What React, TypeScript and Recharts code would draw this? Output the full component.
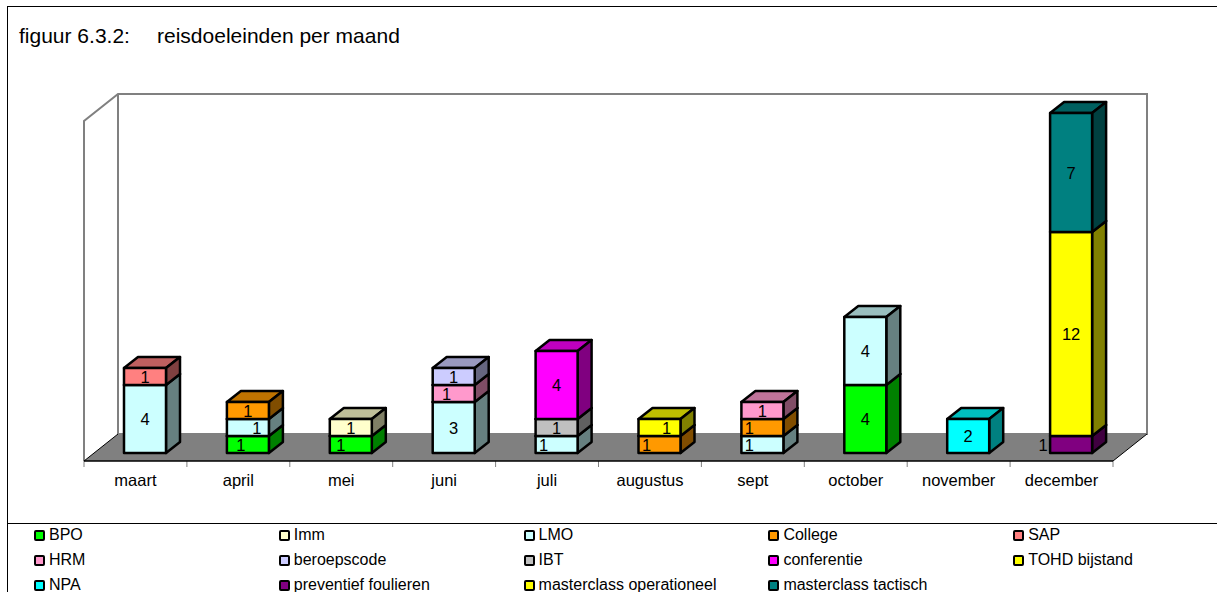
import { Bar, BarChart, Customized, Legend, XAxis, YAxis, usePlotArea } from "recharts";

const FONT = '"Liberation Sans", Arial, sans-serif';

const MONTHS = ["maart", "april", "mei", "juni", "juli", "augustus", "sept", "october", "november", "december"];

const BPO = [0, 1, 1, 0, 0, 0, 0, 4, 0, 0];
const IMM = [0, 0, 1, 0, 0, 0, 0, 0, 0, 0];
const LMO = [4, 1, 0, 3, 1, 0, 1, 4, 0, 0];
const COLLEGE = [0, 1, 0, 0, 0, 1, 1, 0, 0, 0];
const SAP = [1, 0, 0, 0, 0, 0, 0, 0, 0, 0];
const HRM = [0, 0, 0, 1, 0, 0, 1, 0, 0, 0];
const BEROEPSCODE = [0, 0, 0, 1, 0, 0, 0, 0, 0, 0];
const IBT = [0, 0, 0, 0, 1, 0, 0, 0, 0, 0];
const CONFERENTIE = [0, 0, 0, 0, 4, 0, 0, 0, 0, 0];
const TOHD = [0, 0, 0, 0, 0, 1, 0, 0, 0, 0];
const NPA = [0, 0, 0, 0, 0, 0, 0, 0, 2, 0];
const PREVENTIEF = [0, 0, 0, 0, 0, 0, 0, 0, 0, 1];
const MC_OPERATIONEEL = [0, 0, 0, 0, 0, 0, 0, 0, 0, 12];
const MC_TACTISCH = [0, 0, 0, 0, 0, 0, 0, 0, 0, 7];

const SERIES = [
    { name: "BPO", values: BPO, color: [0, 255, 0] },
    { name: "Imm", values: IMM, color: [255, 255, 204] },
    { name: "LMO", values: LMO, color: [204, 255, 255] },
    { name: "College", values: COLLEGE, color: [255, 153, 0] },
    { name: "SAP", values: SAP, color: [255, 128, 128] },
    { name: "HRM", values: HRM, color: [255, 153, 204] },
    { name: "beroepscode", values: BEROEPSCODE, color: [204, 204, 255] },
    { name: "IBT", values: IBT, color: [192, 192, 192] },
    { name: "conferentie", values: CONFERENTIE, color: [255, 0, 255] },
    { name: "TOHD bijstand", values: TOHD, color: [255, 255, 0] },
    { name: "NPA", values: NPA, color: [0, 255, 255] },
    { name: "preventief foulieren", values: PREVENTIEF, color: [128, 0, 128] },
    { name: "masterclass operationeel", values: MC_OPERATIONEEL, color: [255, 255, 0] },
    { name: "masterclass tactisch", values: MC_TACTISCH, color: [0, 128, 128] },
];

// the old chart pushes some data labels sideways, keyed series/month
const LABEL_SHIFT: Record<string, number> = {
    "BPO/april": -7,
    "LMO/april": 9,
    "BPO/mei": -10,
    "HRM/juni": -7,
    "LMO/juli": -13,
    "College/augustus": -13,
    "TOHD bijstand/augustus": 7,
    "LMO/sept": -13,
    "College/sept": -13,
    "preventief foulieren/december": -28,
};

const chartData = MONTHS.map((month, i) => {
    const row: Record<string, string | number> = { month };
    SERIES.forEach((s) => {
        row[s.name] = s.values[i];
    });
    return row;
});

const rgb = (c: number[], k = 1) => `rgb(${c.map((v) => Math.round(v * k)).join(",")})`;

// wall depth of the fake 3D box, bars sit halfway in
const WALL_DX = 34;
const WALL_DY = 27;
const BAR_SHIFT_X = 10;
const BAR_SHIFT_Y = 8;
const BAR_DX = 14;
const BAR_DY = 11;

function Backdrop() {
    const plot = usePlotArea();
    if (!plot) return null;
    const { x, y, width, height } = plot;
    const bottom = y + height;
    const right = x + width;
    const step = width / MONTHS.length;
    return (
        <g>
            <polygon
                points={`${x},${bottom} ${x + WALL_DX},${bottom - WALL_DY} ${right + WALL_DX},${bottom - WALL_DY} ${right},${bottom}`}
                fill="#808080"
            />
            <path
                d={`M${x},${bottom} V${y} L${x + WALL_DX},${y - WALL_DY} H${right + WALL_DX} V${bottom - WALL_DY} H${x + WALL_DX} V${y - WALL_DY}`}
                fill="none"
                stroke="#808080"
                strokeWidth={2}
            />
            <path
                d={`M${x},${bottom} L${x + WALL_DX},${bottom - WALL_DY} M${right},${bottom} L${right + WALL_DX},${bottom - WALL_DY}`}
                stroke="#000"
                strokeWidth={1}
            />
            {[...MONTHS, ""].map((_, i) => (
                <line
                    key={i}
                    x1={x + i * step}
                    x2={x + i * step}
                    y1={bottom}
                    y2={bottom + 6}
                    stroke="#808080"
                    strokeWidth={1}
                />
            ))}
            <line x1={x} x2={right} y1={bottom} y2={bottom} stroke="#000" strokeWidth={1.5} />
        </g>
    );
}

function Box({ x, y, width, height, index, series }: any) {
    const value = series.values[index];
    if (!value || !height) return <g />;
    const l = x + BAR_SHIFT_X;
    const t = y - BAR_SHIFT_Y;
    const r = l + width;
    const b = t + height;
    const shift = LABEL_SHIFT[`${series.name}/${MONTHS[index]}`] ?? 0;
    return (
        <g stroke="#000" strokeWidth={2.5} strokeLinejoin="round">
            <polygon
                points={`${l},${t} ${l + BAR_DX},${t - BAR_DY} ${r + BAR_DX},${t - BAR_DY} ${r},${t}`}
                fill={rgb(series.color, 0.75)}
            />
            <polygon
                points={`${r},${t} ${r + BAR_DX},${t - BAR_DY} ${r + BAR_DX},${b - BAR_DY} ${r},${b}`}
                fill={rgb(series.color, 0.5)}
            />
            <rect x={l} y={t} width={width} height={height} fill={rgb(series.color)} />
            <text
                x={l + width / 2 + shift}
                y={t + height / 2 + 6}
                textAnchor="middle"
                stroke="none"
                fill="#000"
                fontSize={16.5}
                fontFamily={FONT}
            >
                {value}
            </text>
        </g>
    );
}

function LegendGrid() {
    return (
        <div style={{ position: "relative", width: 1217, height: 69, fontFamily: FONT, fontSize: 16, color: "#000" }}>
            {SERIES.map((s, i) => (
                <div
                    key={s.name}
                    style={{
                        position: "absolute",
                        left: 34 + (i % 5) * 244.8,
                        top: Math.floor(i / 5) * 25,
                        display: "flex",
                        alignItems: "center",
                        whiteSpace: "nowrap",
                        lineHeight: "18px",
                    }}
                >
                    <span
                        style={{
                            width: 7,
                            height: 7,
                            border: "2px solid #000",
                            borderRadius: 2,
                            background: rgb(s.color),
                            marginRight: 4,
                        }}
                    />
                    {s.name}
                </div>
            ))}
        </div>
    );
}

export default function App() {
    return (
        <div style={{ position: "absolute", left: 0, top: 0, width: 1217, height: 592, overflow: "hidden", background: "#fff" }}>
            <div style={{ position: "absolute", left: 7, top: 6, right: 0, bottom: 0, borderLeft: "1.5px solid #000", borderTop: "1.5px solid #000" }} />
            <div style={{ position: "absolute", left: 7, top: 523, right: 0, borderTop: "1.5px solid #000" }} />
            <div style={{ position: "absolute", left: 19, top: 24, fontFamily: FONT, fontSize: 21, color: "#000" }}>figuur 6.3.2:</div>
            <div style={{ position: "absolute", left: 157, top: 24, fontFamily: FONT, fontSize: 21, color: "#000" }}>reisdoeleinden per maand</div>
            <BarChart
                width={1217}
                height={592}
                data={chartData}
                margin={{ top: 121, right: 104, left: 84, bottom: 91 }}
                barSize={42}
                style={{ position: "absolute", left: 0, top: 0 }}
            >
                <Customized component={<Backdrop />} />
                <XAxis
                    dataKey="month"
                    interval={0}
                    axisLine={false}
                    tickLine={false}
                    tickSize={0}
                    tickMargin={13}
                    height={40}
                    tick={{ fill: "#000", fontSize: 16.5, fontFamily: FONT }}
                />
                <YAxis hide domain={[0, 20]} />
                {SERIES.map((s) => (
                    <Bar
                        key={s.name}
                        dataKey={s.name}
                        stackId="a"
                        fill={rgb(s.color)}
                        isAnimationActive={false}
                        shape={(p: any) => <Box {...p} series={s} />}
                    />
                ))}
                <Legend
                    layout="horizontal"
                    verticalAlign="middle"
                    content={<LegendGrid />}
                    wrapperStyle={{ left: 0, top: 526, width: 1217 }}
                />
            </BarChart>
        </div>
    );
}
